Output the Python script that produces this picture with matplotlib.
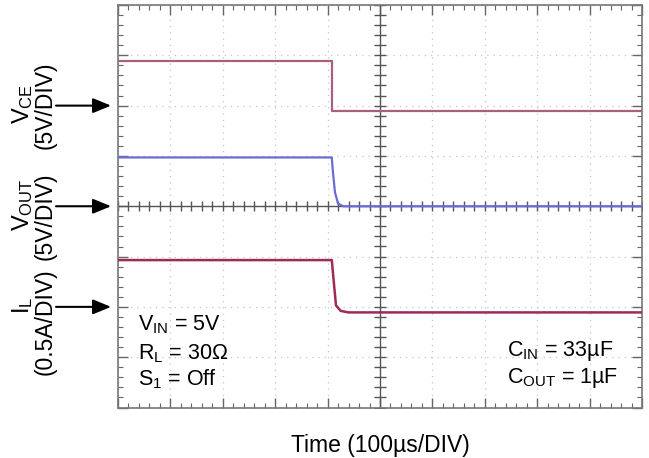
import numpy as np
import matplotlib
matplotlib.use('Agg')
from matplotlib import pyplot as plt
from matplotlib.ticker import MultipleLocator

plt.rcParams['font.family'] = ['Liberation Sans', 'DejaVu Sans']
plt.rcParams['mathtext.fontset'] = 'custom'
plt.rcParams['mathtext.rm'] = 'Liberation Sans'
plt.rcParams['mathtext.it'] = 'Liberation Sans'

# scope traces, in divisions (x: 0..10, y: -4..4)
t_vce = [0, 4.08, 4.08, 10]
vce = [2.88, 2.88, 1.89, 1.89]

t_vout = [0, 4.08, 4.1, 4.14, 4.2, 4.3, 10]
vout = [0.97, 0.97, 0.7, 0.28, 0.05, 0.0, 0.0]

t_il = [0, 4.08, 4.1, 4.16, 4.25, 4.4, 10]
il = [-1.07, -1.07, -1.3, -1.97, -2.08, -2.11, -2.11]

# channel labels: (name, scale, ground level in div, scale label shift px)
channels = [
    (r'$\mathregular{V_{CE}}$', '(5V/DIV)', 2.0, 0),
    (r'$\mathregular{V_{OUT}}$', '(5V/DIV)', 0.0, -10),
    (r'$\mathregular{I_{L}}$', '(0.5A/DIV)', -2.0, -15),
]

fig = plt.figure(figsize=(6.49, 4.58), dpi=100)
ax = fig.add_axes([118 / 649, 1 - 407.5 / 458, 524 / 649, 402.5 / 458])
ax.set_xlim(0, 10)
ax.set_ylim(-4, 4)

# graticule
ax.xaxis.set_major_locator(MultipleLocator(1))
ax.yaxis.set_major_locator(MultipleLocator(1))
ax.xaxis.set_minor_locator(MultipleLocator(0.2))
ax.yaxis.set_minor_locator(MultipleLocator(0.2))
ax.tick_params(which='both', direction='in', top=True, right=True,
               labelbottom=False, labelleft=False, color='#666')
ax.tick_params(which='major', length=7, width=1)
ax.tick_params(which='minor', length=3.5, width=0.8)
ax.grid(True, which='major', color='#c4c4c4', lw=0.9, ls=(0, (1, 4)))
for s in ax.spines.values():
    s.set_color('#777777')
    s.set_linewidth(1.2)

ax.axhline(0, color='#555555', lw=1, zorder=2)
ax.axvline(5, color='#555555', lw=1, zorder=2)
minor_x = np.arange(0, 10.01, 0.2)
minor_y = np.arange(-4, 4.01, 0.2)
ax.plot(minor_x, np.zeros_like(minor_x), ls='none', marker='|', ms=7,
        mew=1, color='#555555', zorder=2)
ax.plot(np.full_like(minor_y, 5), minor_y, ls='none', marker='_', ms=9,
        mew=1, color='#555555', zorder=2)

# traces
ax.plot(t_vce, vce, color='#a8607f', lw=1.6, zorder=3)
ax.plot(t_vout, vout, color='#6b6bd6', lw=1.6, zorder=3)
ax.plot(t_il, il, color='#9e2a5a', lw=1.8, zorder=3)

# channel labels and arrows
for name, scale, lvl, shift in channels:
    ax.annotate('', xy=(0, lvl), xycoords='data',
                xytext=(-62, 0), textcoords='offset pixels',
                arrowprops=dict(arrowstyle='-|>,head_length=1.1,head_width=0.45',
                                color='black', lw=1.5, shrinkA=0, shrinkB=5))
    ax.annotate(name, xy=(0, lvl), xycoords='data', xytext=(-95, 2),
                textcoords='offset pixels', rotation=90, fontsize=17,
                ha='center', va='center')
    ax.annotate(scale, xy=(0, lvl), xycoords='data', xytext=(-73, shift),
                textcoords='offset pixels', rotation=90, fontsize=16.5,
                ha='center', va='center')

ax.text(0.38, -2.36, r'$\mathregular{V_{IN}}$ = 5V', fontsize=15.5, va='center')
ax.text(0.38, -2.93, r'$\mathregular{R_{L}}$ = 30Ω', fontsize=15.5, va='center')
ax.text(0.38, -3.44, r'$\mathregular{S_{1}}$ = Off', fontsize=15.5, va='center')
ax.text(7.43, -2.87, r'$\mathregular{C_{IN}}$ = 33µF', fontsize=15.5, va='center')
ax.text(7.43, -3.42, r'$\mathregular{C_{OUT}}$ = 1µF', fontsize=15.5, va='center')

ax.set_xlabel('Time (100µs/DIV)', fontsize=16.5, labelpad=19)

fig.savefig('out.png', dpi=100)
